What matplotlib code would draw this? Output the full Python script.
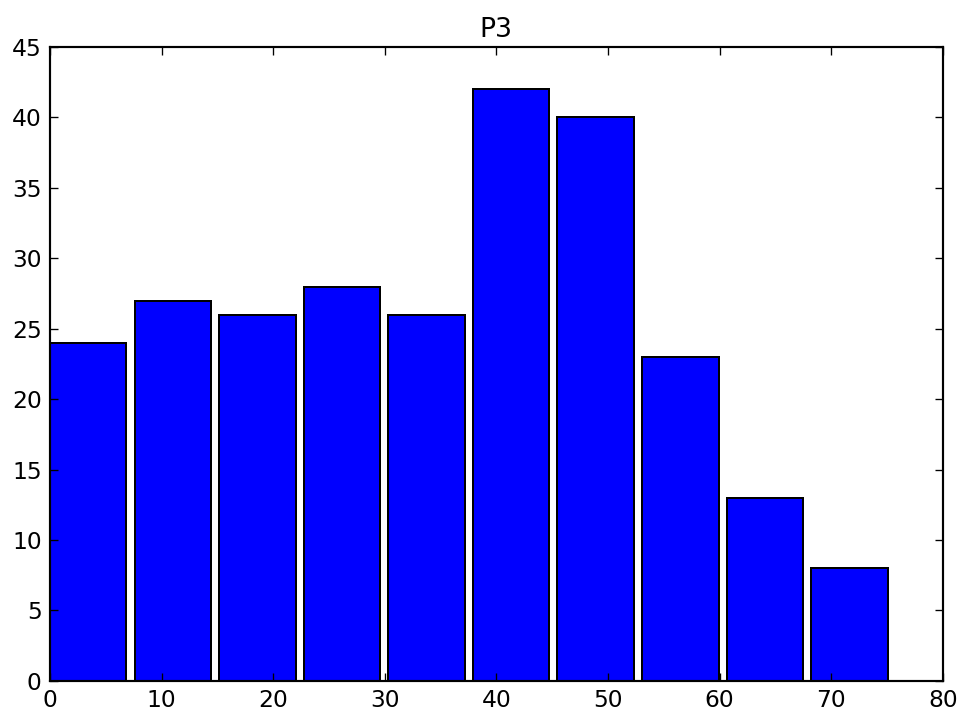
import numpy as np
import matplotlib.pyplot as plt

# contagens de cada classe do histograma
contagens = [24, 27, 26, 28, 26, 42, 40, 23, 13, 8]
larguraClasse = 7.58
bordas = np.arange(len(contagens)) * larguraClasse

fig = plt.figure(figsize=(8, 713 / 120), dpi=120)
ax = fig.add_axes([0.052, 0.045, 0.930, 0.889])

ax.bar(bordas, contagens, width=larguraClasse * 0.905, align='edge',
       color='#0000ff', edgecolor='black', linewidth=1.2)

ax.set_xlim(0, 80)
ax.set_ylim(0, 45)
ax.set_xticks(range(0, 81, 10))
ax.set_yticks(range(0, 46, 5))
ax.tick_params(direction='in', top=True, right=True, labelsize=14, length=5, pad=5)
for s in ax.spines.values():
    s.set_linewidth(1.3)
ax.set_title('P3', fontsize=16, pad=6)

plt.savefig('out.png', dpi=120)
